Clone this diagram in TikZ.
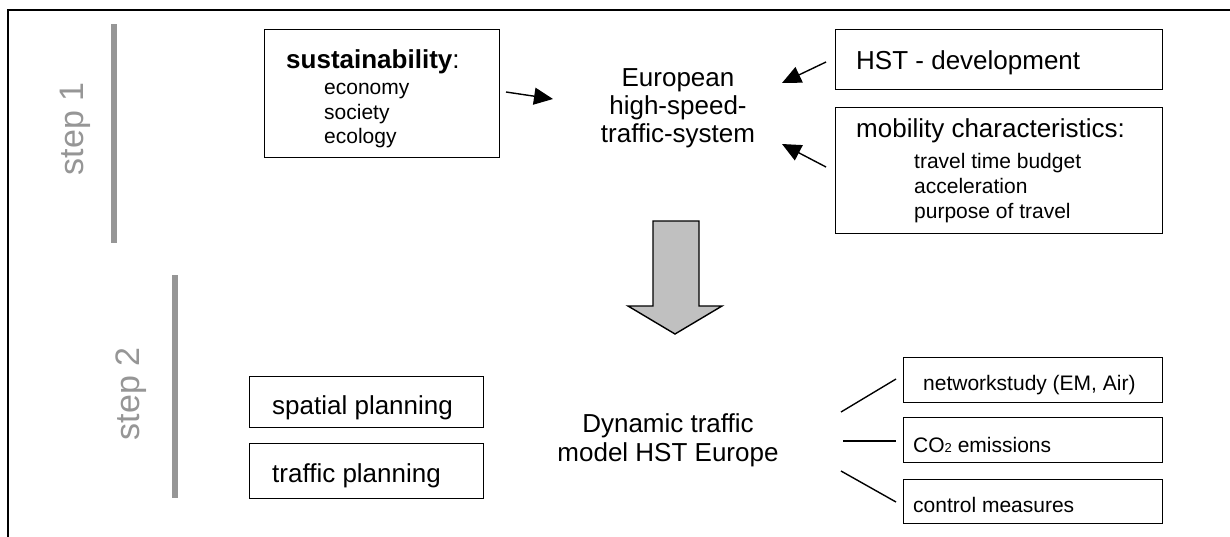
\documentclass[tikz,border=0pt]{standalone}
\usepackage{fontspec}
\setmainfont{Liberation Sans}
\usetikzlibrary{arrows.meta}
\definecolor{stepgray}{RGB}{150,150,150}
\definecolor{arrowfill}{RGB}{192,192,192}
\begin{document}
\begin{tikzpicture}[x=1pt,y=-1pt,
  box/.style={draw, line width=1.4pt, inner sep=0pt, anchor=north west},
  big/.style={font=\fontsize{26}{28}\selectfont},
  small/.style={font=\fontsize{21}{25}\selectfont},
  steplabel/.style={font=\fontsize{34}{34}\selectfont, text=stepgray, rotate=90, inner sep=0pt},
  stepbar/.style={draw=stepgray, line width=6pt},
  arr/.style={line width=1.4pt, -{Triangle[length=19pt,width=17pt]}},
  link/.style={line width=1.4pt},
  txt/.style={inner sep=0pt, anchor=base west}]
\clip (0,0) rectangle (1230,536);
\fill[white] (0,0) rectangle (1230,536);
\draw[line width=1.4pt] (8,10) rectangle (1240,546);

% step markers
\draw[stepbar] (114,24) -- (114,243);
\node[steplabel] (s1) at (75,129) {step 1};
\draw[stepbar] (175,275) -- (175,498);
\node[steplabel] (s2) at (131,394) {step 2};

% step 1 boxes
\node[box, minimum width=235pt, minimum height=128pt] (sust) at (264,29) {};
\node[txt, big] (sustT) at (286,68) {\textbf{sustainability}:};
\node[txt, small] (eco) at (324,94) {economy};
\node[txt, small] (soc) at (324,119) {society};
\node[txt, small] (ecol) at (324,143) {ecology};

\node[box, minimum width=327pt, minimum height=60pt] (hst) at (835,29) {};
\node[txt, big] (hstT) at (856,69) {HST - development};

\node[box, minimum width=327pt, minimum height=126pt] (mob) at (835,107) {};
\node[txt, big] (mobT) at (856,137) {mobility characteristics:};
\node[txt, small] (ttb) at (914,168) {travel time budget};
\node[txt, small] (acc) at (914,193) {acceleration};
\node[txt, small] (pot) at (914,218) {purpose of travel};

\node[big, align=center, inner sep=0pt] (ehs) at (678,108.5) {European\\high-speed-\\traffic-system};

% arrows into European system
\coordinate (a1s) at (506,92);  \coordinate (a1e) at (553,99);
\coordinate (a2s) at (826,62);  \coordinate (a2e) at (782,83);
\coordinate (a3s) at (826,167); \coordinate (a3e) at (782,144);
\draw[arr] (a1s) -- (a1e);
\draw[arr] (a2s) -- (a2e);
\draw[arr] (a3s) -- (a3e);

% big gray arrow
\draw[line width=1.4pt, fill=arrowfill, line join=miter]
  (653,221) -- (699,221) -- (699,306) -- (722,306) -- (675,334) -- (628,306) -- (653,306) -- cycle;

% step 2
\node[box, minimum width=234pt, minimum height=51pt] (spat) at (249,376) {};
\node[txt, big] (spatT) at (272,414) {spatial planning};
\node[box, minimum width=234pt, minimum height=55pt] (traf) at (249,443) {};
\node[txt, big] (trafT) at (272,482) {traffic planning};

\node[big, align=center, inner sep=0pt] (dyn) at (668,440) {Dynamic traffic\\[1pt]model HST Europe};

\node[box, minimum width=259pt, minimum height=45pt] (net) at (903,357) {};
\node[txt, small] (netT) at (923,390) {networkstudy (EM, Air)};
\node[box, minimum width=259pt, minimum height=45pt] (co2) at (903,417) {};
\node[txt, small] (co2T) at (913,452) {CO{\fontsize{13}{13}\selectfont 2} emissions};
\node[box, minimum width=259pt, minimum height=44pt] (ctl) at (903,479) {};
\node[txt, small] (ctlT) at (913,512) {control measures};

\coordinate (l1s) at (841,412); \coordinate (l1e) at (896,379);
\coordinate (l2s) at (843,441); \coordinate (l2e) at (896,441);
\coordinate (l3s) at (841,471); \coordinate (l3e) at (896,502);
\draw[link] (l1s) -- (l1e);
\draw[link] (l2s) -- (l2e);
\draw[link] (l3s) -- (l3e);
\end{tikzpicture}
\end{document}
